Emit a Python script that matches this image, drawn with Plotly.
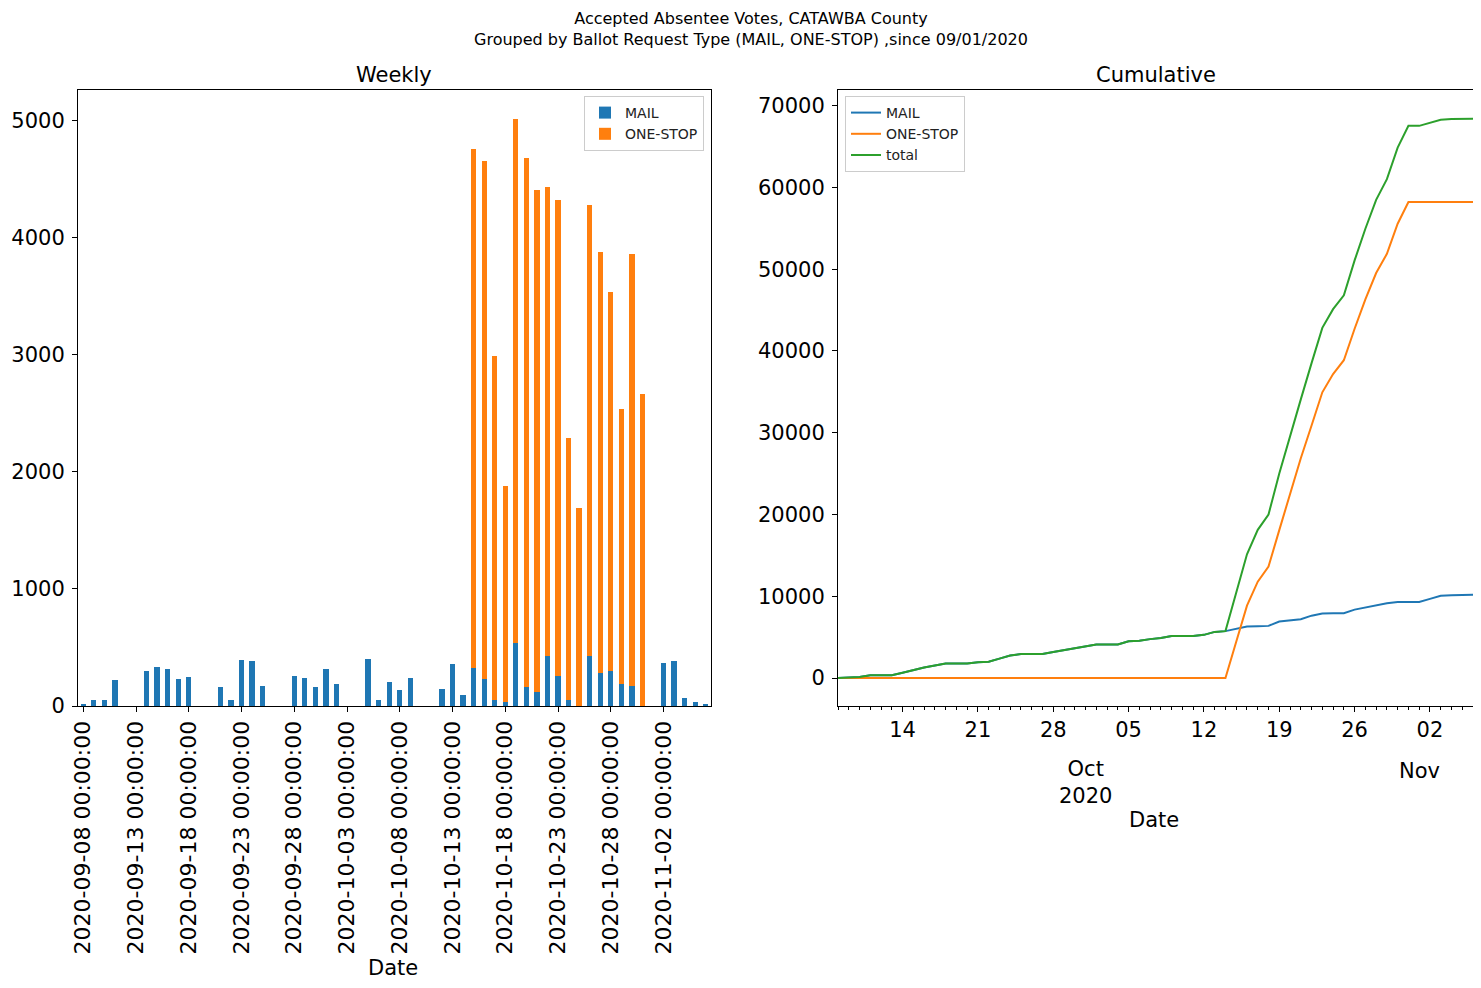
import numpy as np
import pandas as pd
import plotly.graph_objects as go

# ---------------- data ----------------
dates = pd.date_range("2020-09-08", "2020-11-06", freq="D")
date_labels = [d.strftime("%Y-%m-%d 00:00:00") for d in dates]

mail = [9, 51, 51, 223, 0, 0, 300, 334, 317, 231, 249, 0, 0, 163, 51, 394, 386, 171, 0, 0,
        257, 240, 163, 317, 189, 0, 0, 403, 51, 206, 137, 240, 0, 0, 146, 360, 94,
        326, 231, 51, 34, 540, 163, 120, 429, 257, 51, 0, 429, 283, 300, 189, 171, 0,
        0, 369, 386, 69, 34, 9]
one_stop = [0] * 37 + [4426, 4419, 2935, 1843, 4468, 4513, 4283, 3999, 4060, 2236, 1689,
                       3846, 3590, 3232, 2345, 3686, 2662] + [0] * 6

left_tick_idx = list(range(0, 60, 5))
right_tick_dates = ["2020-09-14", "2020-09-21", "2020-09-28", "2020-10-05",
                    "2020-10-12", "2020-10-19", "2020-10-26", "2020-11-02"]
right_tick_text = ["14", "21", "28", "05", "12", "19", "26", "02"]

mail_cum = np.cumsum(mail)
one_cum = np.cumsum(one_stop)
total_cum = mail_cum + one_cum

# ---------------- figure ----------------
PAGE_W, PAGE_H = 1481, 988
OFF = 8  # default body margin of the html page
W, H = PAGE_W - 2 * OFF, PAGE_H - 2 * OFF
FONT = "DejaVu Sans"
BLUE, ORANGE, GREEN = "#1f77b4", "#ff7f0e", "#2ca02c"

def px(x):
    return (x - OFF) / W

def py(y):
    return 1 - (y - OFF) / H

fig = go.Figure()

fig.add_trace(go.Bar(x=date_labels, y=mail, name="MAIL", marker_color=BLUE,
                     marker_line_width=0, width=0.5, xaxis="x", yaxis="y", legend="legend"))
fig.add_trace(go.Bar(x=date_labels, y=one_stop, name="ONE-STOP", marker_color=ORANGE,
                     marker_line_width=0, width=0.5, xaxis="x", yaxis="y", legend="legend"))

fig.add_trace(go.Scatter(x=dates, y=mail_cum, name="MAIL", mode="lines",
                         line=dict(color=BLUE, width=2), xaxis="x2", yaxis="y2", legend="legend2"))
fig.add_trace(go.Scatter(x=dates, y=one_cum, name="ONE-STOP", mode="lines",
                         line=dict(color=ORANGE, width=2), xaxis="x2", yaxis="y2", legend="legend2"))
fig.add_trace(go.Scatter(x=dates, y=total_cum, name="total", mode="lines",
                         line=dict(color=GREEN, width=2), xaxis="x2", yaxis="y2", legend="legend2"))

axis_common = dict(showline=True, linecolor="black", linewidth=1, mirror=True,
                   ticks="outside", ticklen=5, tickwidth=1, tickcolor="black",
                   showgrid=False, zeroline=False, automargin=False)
tickfont = dict(family=FONT, size=21, color="black")

y_dom = [py(706), py(90)]

fig.update_layout(
    width=W, height=H,
    margin=dict(l=0, r=0, t=0, b=0),
    paper_bgcolor="white", plot_bgcolor="white",
    barmode="stack",
    font=dict(family=FONT, color="black"),
    xaxis=dict(domain=[px(78), px(711)], anchor="y", type="category",
               range=[-0.5, 59.5], tickmode="array",
               tickvals=[date_labels[i] for i in left_tick_idx],
               ticktext=[date_labels[i] for i in left_tick_idx],
               tickangle=-90, tickfont=dict(family=FONT, size=22, color="black"),
               **axis_common),
    yaxis=dict(domain=y_dom, anchor="x", range=[0, 5258],
               tickmode="array", tickvals=[0, 1000, 2000, 3000, 4000, 5000],
               ticklabelstandoff=3, tickfont=tickfont, **axis_common),
    xaxis2=dict(domain=[px(838), px(1473)], anchor="y2", type="date",
                range=["2020-09-08", "2020-11-06"], tickmode="array",
                tickvals=right_tick_dates, ticktext=right_tick_text,
                minor=dict(dtick=86400000, tick0="2020-09-08", ticks="outside",
                           ticklen=3, tickwidth=1, tickcolor="black"),
                tickfont=tickfont, **axis_common),
    yaxis2=dict(domain=y_dom, anchor="x2", range=[-3425, 71925],
                tickmode="array", tickvals=list(range(0, 70001, 10000)),
                tickformat="d", ticklabelstandoff=3, tickfont=tickfont, **axis_common),
    legend=dict(x=px(704), y=py(96), xanchor="right", yanchor="top",
                bgcolor="rgba(255,255,255,0.8)", bordercolor="#cccccc", borderwidth=1,
                font=dict(family=FONT, size=14, color="#222222"),
                traceorder="normal", tracegroupgap=0, itemwidth=30),
    legend2=dict(x=px(845), y=py(96), xanchor="left", yanchor="top",
                 bgcolor="rgba(255,255,255,0.8)", bordercolor="#cccccc", borderwidth=1,
                 font=dict(family=FONT, size=14, color="#222222"),
                 traceorder="normal", tracegroupgap=0, itemwidth=30),
    showlegend=True,
)

ann = [
    dict(text="Accepted Absentee Votes, CATAWBA County<br>Grouped by Ballot Request Type (MAIL, ONE-STOP) ,since 09/01/2020",
         x=px(751), y=py(7), xanchor="center", yanchor="top", font=dict(size=16)),
    dict(text="Weekly", x=px(394.5), y=py(75), xanchor="center", yanchor="middle", font=dict(size=21)),
    dict(text="Cumulative", x=px(1155.5), y=py(75), xanchor="center", yanchor="middle", font=dict(size=21)),
    dict(text="Date", x=px(393), y=py(968), xanchor="center", yanchor="middle", font=dict(size=21)),
    dict(text="Date", x=px(1154), y=py(820), xanchor="center", yanchor="middle", font=dict(size=21)),
]
for a in ann:
    a.update(xref="paper", yref="paper", showarrow=False)
    a["font"] = dict(family=FONT, color="black", size=a["font"]["size"])

month_ann = [
    dict(text="Oct<br>2020", x="2020-10-01", y=py(782)),
    dict(text="Nov", x="2020-11-01", y=py(771)),
]
for a in month_ann:
    a.update(xref="x2", yref="paper", showarrow=False, xanchor="center", yanchor="middle",
             font=dict(family=FONT, size=21, color="black"))

fig.update_layout(annotations=ann + month_ann)

fig.write_html("out.html")
